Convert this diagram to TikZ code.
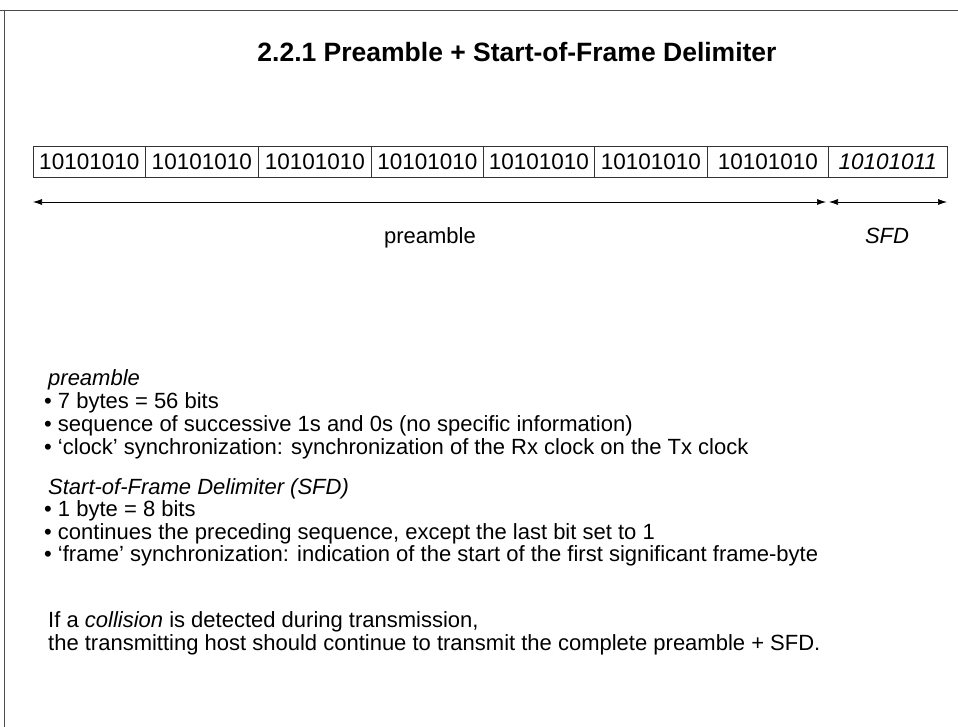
\documentclass[tikz,border=0pt]{standalone}
\usepackage{fontspec}
\setmainfont{Liberation Sans}
\usetikzlibrary{arrows.meta}
\usetikzlibrary{positioning}

\tikzset{
  byte/.style={draw=black!80, line width=0.6pt, minimum width=113pt, minimum height=31pt, inner sep=0pt, anchor=south west, font=\fontsize{22.5}{27}\selectfont},
  line/.style={anchor=base west, inner sep=0pt, font=\fontsize{22}{26}\selectfont},
  span/.style={{Latex[length=9pt,width=6pt]}-{Latex[length=9pt,width=6pt]}, line width=0.7pt}
}

\begin{document}
\begin{tikzpicture}[x=1pt,y=-1pt]
            \useasboundingbox (0,0) rectangle (958,727);
            \draw[black!70, line width=0.8pt] (0,10) -- (958,10);
            \draw[black!70, line width=0.8pt] (4,10) -- (4,727);

            \draw (517,62) node[anchor=base, inner sep=0pt, font=\fontsize{26.5}{30}\selectfont\bfseries] (title) {2.2.1 Preamble + Start-of-Frame Delimiter};

            \draw (33,178)  node[byte, minimum width=112pt]    (b1) {10101010};
            \draw (145,178) node[byte, minimum width=113pt]    (b2) {10101010};
            \draw (258,178) node[byte, minimum width=113pt]    (b3) {10101010};
            \draw (371,178) node[byte, minimum width=112pt]    (b4) {10101010};
            \draw (483,178) node[byte, minimum width=111pt]    (b5) {10101010};
            \draw (594,178) node[byte, minimum width=113pt]    (b6) {10101010};
            \draw (707,178) node[byte, minimum width=121pt]    (b7) {10101010\hspace{8pt}};
            \draw (828,178) node[byte, minimum width=119pt]    (b8) {\itshape 10101011};

            \coordinate (pl) at (33,202);
            \coordinate (pr) at (826,202);
            \coordinate (sl) at (829,202);
            \coordinate (sr) at (947,202);
            \draw[span] (pl) -- (pr);
            \draw[span] (sl) -- (sr);

            \draw (430,244) node[anchor=base, inner sep=0pt, font=\fontsize{22}{26}\selectfont] (pre) {preamble};
            \draw (887,244) node[anchor=base, inner sep=0pt, font=\fontsize{22}{26}\selectfont\itshape] (sfd) {SFD};

            \draw (48,385) node[line, font=\fontsize{22}{26}\selectfont\itshape] (h1) {preamble};
            \draw (44,408) node[line]                          (l1) {• 7 bytes = 56 bits};
            \draw (44,431) node[line]                          (l2) {• sequence of successive 1s and 0s (no specific information)};
            \draw (44,454) node[line]                          (l3) {• ‘clock’ synchronization: synchronization of the Rx clock on the Tx clock};

            \draw (48,494) node[line, font=\fontsize{22}{26}\selectfont\itshape] (h2) {Start-of-Frame Delimiter (SFD)};
            \draw (44,516) node[line]                          (l4) {• 1 byte = 8 bits};
            \draw (44,539) node[line]                          (l5) {• continues the preceding sequence, except the last bit set to 1};
            \draw (44,561) node[line]                          (l6) {• ‘frame’ synchronization: indication of the start of the first significant frame-byte};

            \draw (48,627) node[line]                          (c1) {If a \textit{collision} is detected during transmission,};
            \draw (48,650) node[line]                          (c2) {the transmitting host should continue to transmit the complete preamble + SFD.};

            \end{tikzpicture}
\end{document}
